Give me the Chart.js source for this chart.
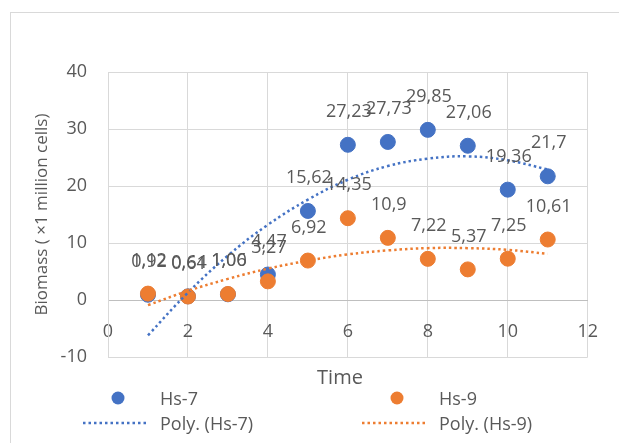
<!DOCTYPE html>
<html>
<head>
<meta charset="utf-8">
<script src="https://cdn.jsdelivr.net/npm/chart.js@4.4.1/dist/chart.umd.min.js"></script>
<style>
  html, body { margin: 0; padding: 0; background: #fff; }
  canvas { display: block; }
</style>
</head>
<body>
<canvas id="chart" width="619" height="443"></canvas>
<script>
// values
const timePoints = [1, 2, 3, 4, 5, 6, 7, 8, 9, 10, 11];
const hs7 = [0.92, 0.64, 1.00, 4.47, 15.62, 27.23, 27.73, 29.85, 27.06, 19.36, 21.7];
const hs9 = [1.12, 0.61, 1.06, 3.27, 6.92, 14.35, 10.9, 7.22, 5.37, 7.25, 10.61];
// trendline heights read at each time point
const polyHs7 = [-6.2, 1.3, 7.8, 13.2, 17.6, 21.1, 23.5, 24.8, 25.2, 24.5, 22.9];
const polyHs9 = [-0.9, 1.6, 3.7, 5.5, 6.9, 8.0, 8.7, 9.1, 9.1, 8.8, 8.1];

const blue = '#4472C4';
const orange = '#ED7D31';
const textGray = '#595959';
const gridGray = '#d9d9d9';
const fontFamily = '"Open Sans", sans-serif';

const toPoints = vals => timePoints.map((t, i) => ({ x: t, y: vals[i] }));
const fmt = v => (Number.isInteger(v) ? v.toFixed(2) : String(v)).replace('.', ',');

// white page + the light frame round the chart
const framePlugin = {
    id: 'frame',
    beforeDraw(chart) {
        const ctx = chart.ctx;
        ctx.save();
        ctx.fillStyle = '#fff';
        ctx.fillRect(0, 0, chart.width, chart.height);
        ctx.strokeStyle = gridGray;
        ctx.lineWidth = 1;
        ctx.strokeRect(10.5, 12.5, 700, 500);
        ctx.restore();
    }
};

// data labels above each marker
const valueLabels = {
    id: 'valueLabels',
    afterDatasetsDraw(chart) {
        const ctx = chart.ctx;
        ctx.save();
        ctx.font = '18px ' + fontFamily;
        ctx.fillStyle = textGray;
        ctx.textAlign = 'center';
        ctx.textBaseline = 'middle';
        chart.data.datasets.forEach((ds, i) => {
            if (!ds.showValues) return;
            chart.getDatasetMeta(i).data.forEach((pt, j) => {
                ctx.fillText(fmt(ds.data[j].y), pt.x + 1, pt.y - 33);
            });
        });
        ctx.restore();
    }
};

// x title and the two-column legend under the plot
const bottomLegend = {
    id: 'bottomLegend',
    afterDraw(chart) {
        const ctx = chart.ctx;
        const ds = chart.data.datasets;
        ctx.save();
        ctx.fillStyle = textGray;
        ctx.textBaseline = 'middle';
        ctx.textAlign = 'center';
        ctx.font = '20px ' + fontFamily;
        ctx.fillText('Time', 340, 378);

        ctx.font = '18px ' + fontFamily;
        ctx.textAlign = 'left';
        const cols = [118, 397];
        [0, 1].forEach(k => {
            const s = ds[k];
            ctx.beginPath();
            ctx.arc(cols[k], 398, 6.5, 0, Math.PI * 2);
            ctx.fillStyle = s.backgroundColor;
            ctx.fill();
            ctx.fillStyle = textGray;
            ctx.fillText(s.label, cols[k] + 42, 400);

            const t = ds[k + 2];
            ctx.beginPath();
            ctx.setLineDash(t.borderDash);
            ctx.lineWidth = t.borderWidth;
            ctx.strokeStyle = t.borderColor;
            ctx.moveTo(cols[k] - 35, 423);
            ctx.lineTo(cols[k] + 30, 423);
            ctx.stroke();
            ctx.setLineDash([]);
            ctx.fillText(t.label, cols[k] + 42, 425);
        });
        ctx.restore();
    }
};

const tickFont = { family: fontFamily, size: 18 };

new Chart(document.getElementById('chart'), {
    type: 'scatter',
    data: {
        datasets: [
            {
                label: 'Hs-7',
                data: toPoints(hs7),
                backgroundColor: blue,
                borderColor: blue,
                pointRadius: 7.5,
                showValues: true,
                order: 4
            },
            {
                label: 'Hs-9',
                data: toPoints(hs9),
                backgroundColor: orange,
                borderColor: orange,
                pointRadius: 7.5,
                showValues: true,
                order: 3
            },
            {
                label: 'Poly. (Hs-7)',
                data: toPoints(polyHs7),
                showLine: true,
                tension: 0.4,
                pointRadius: 0,
                borderColor: blue,
                borderWidth: 2.5,
                borderDash: [2.5, 3],
                order: 2
            },
            {
                label: 'Poly. (Hs-9)',
                data: toPoints(polyHs9),
                showLine: true,
                tension: 0.4,
                pointRadius: 0,
                borderColor: orange,
                borderWidth: 2.5,
                borderDash: [2.5, 3],
                order: 1
            }
        ]
    },
    options: {
        responsive: false,
        animation: false,
        devicePixelRatio: 1,
        layout: { padding: { left: 32, right: 24, top: 72, bottom: 86 } },
        plugins: {
            legend: { display: false },
            tooltip: { enabled: false }
        },
        scales: {
            x: {
                type: 'linear',
                position: { y: 0 },
                min: 0,
                max: 12,
                ticks: { stepSize: 2, padding: 21, color: textGray, font: tickFont },
                grid: { color: gridGray, drawTicks: false },
                border: { color: '#bfbfbf' },
                afterFit: scale => { scale.height = 0; }
            },
            y: {
                min: -10,
                max: 40,
                ticks: { stepSize: 10, padding: 21, color: textGray, font: tickFont },
                grid: { color: gridGray, drawTicks: false },
                border: { color: gridGray },
                title: {
                    display: true,
                    text: 'Biomass ( ×1 million cells)',
                    color: textGray,
                    font: { family: fontFamily, size: 17 },
                    padding: 0
                },
                afterFit: scale => { scale.width = 76; }
            }
        }
    },
    plugins: [framePlugin, valueLabels, bottomLegend]
});
</script>
</body>
</html>
